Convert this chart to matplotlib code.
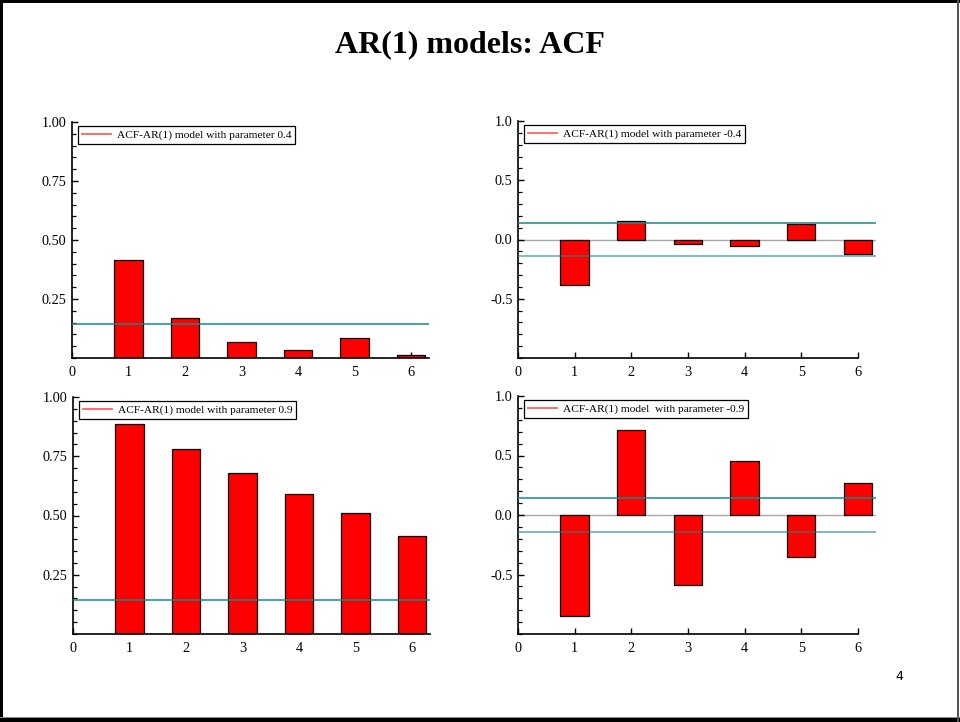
import numpy as np
import matplotlib
matplotlib.use("Agg")
import matplotlib.pyplot as plt
from matplotlib.patches import Rectangle
from matplotlib.ticker import MultipleLocator, FixedLocator

plt.rcParams['font.family'] = ['Liberation Serif', 'DejaVu Serif']

# sample autocorrelations, lags 1..6
lags = [1, 2, 3, 4, 5, 6]
acf_pos04 = [0.415, 0.170, 0.066, 0.034, 0.085, 0.013]
acf_neg04 = [-0.388, 0.152, -0.036, -0.056, 0.132, -0.126]
acf_pos09 = [0.888, 0.781, 0.680, 0.590, 0.510, 0.412]
acf_neg09 = [-0.851, 0.714, -0.586, 0.456, -0.350, 0.269]

# approx. 2/sqrt(T) significance bands
bands = [0.143, 0.141, 0.143, 0.140]

labels = [
    'ACF-AR(1) model with parameter 0.4',
    'ACF-AR(1) model with parameter -0.4',
    'ACF-AR(1) model with parameter 0.9',
    'ACF-AR(1) model  with parameter -0.9',
]

series = [acf_pos04, acf_neg04, acf_pos09, acf_neg09]

W, H = 960, 722
fig = plt.figure(figsize=(W / 100, H / 100), dpi=100)
fig.patch.set_facecolor('white')

# axes boxes in pixels: (left, top, width, height)
boxes = [
    (72, 122, 357, 236),
    (518, 121, 358, 237),
    (73, 397, 357, 237),
    (518, 396, 358, 238),
]

BAND_COLOR = '#148a8a'
BAR_RED = '#ff0000'

for i, (vals, lab, band, box) in enumerate(zip(series, labels, bands, boxes)):
    l, t, w, h = box
    ax = fig.add_axes([l / W, 1 - (t + h) / H, w / W, h / H])
    two_sided = min(vals) < 0

    ax.bar(lags, vals, width=0.5, color=BAR_RED, edgecolor='black',
           linewidth=0.9, zorder=2)
    ax.axhline(band, color=BAND_COLOR, lw=1.1, zorder=3)
    if two_sided:
        ax.axhline(-band, color=BAND_COLOR, lw=1.1, alpha=0.7, zorder=3)
        ax.axhline(0, color='#a8a8a8', lw=1.0, zorder=1)

    ax.set_xlim(0, 6.32)
    if two_sided:
        ax.set_ylim(-1, 1)
        ax.yaxis.set_major_locator(FixedLocator([-0.5, 0.0, 0.5, 1.0]))
        ax.yaxis.set_minor_locator(MultipleLocator(0.1))
        ax.set_yticklabels(['-0.5', '0.0', '0.5', '1.0'])
        ax.spines['bottom'].set_bounds(0, 6)
        ax.spines['bottom'].set_position(('data', -1))
    else:
        ax.set_ylim(0, 1)
        ax.yaxis.set_major_locator(FixedLocator([0.25, 0.5, 0.75, 1.0]))
        ax.yaxis.set_minor_locator(MultipleLocator(0.05))
        ax.set_yticklabels(['0.25', '0.50', '0.75', '1.00'])
    ax.set_xticks(range(0, 7))

    for side in ('top', 'right'):
        ax.spines[side].set_visible(False)
    for side in ('left', 'bottom'):
        ax.spines[side].set_linewidth(1.2)
    ax.tick_params(axis='both', which='major', direction='in', length=4,
                   width=1.0, labelsize=10.3, pad=4)
    ax.tick_params(axis='y', which='minor', direction='in', length=3,
                   width=0.9)
    ax.tick_params(axis='x', pad=6)

    ax.plot([], [], color='#ff6262', lw=1.3, label=lab)
    leg = ax.legend(loc='upper left', bbox_to_anchor=(6 / w, 1 - 4 / h),
                    borderaxespad=0, fontsize=8.2, handlelength=2.55,
                    handletextpad=0.5, borderpad=0.35, fancybox=False,
                    framealpha=1, edgecolor='black')
    leg.get_frame().set_linewidth(0.9)

fig.text(0.49, 0.938, 'AR(1) models: ACF', ha='center', va='center',
         fontsize=23, fontweight='bold')
fig.text(899 / W, 1 - 676 / H, '4', ha='center', va='center',
         fontsize=9, family='DejaVu Sans')

# slide frame
px = fig.transFigure
frame = [
    (0, 0, 3 / W, 1, 'black'),
    (0, 1 - 3 / H, 1, 3 / H, 'black'),
    (0, 0, 1, 4 / H, 'black'),
    (0, 4 / H, 1, 1 / H, '#888888'),
    (1 - 3 / W, 0, 2 / W, 1, '#555555'),
]
for x0, y0, fw, fh, c in frame:
    fig.add_artist(Rectangle((x0, y0), fw, fh, transform=px,
                             facecolor=c, edgecolor='none', zorder=10))

fig.savefig('out.png', dpi=100)
